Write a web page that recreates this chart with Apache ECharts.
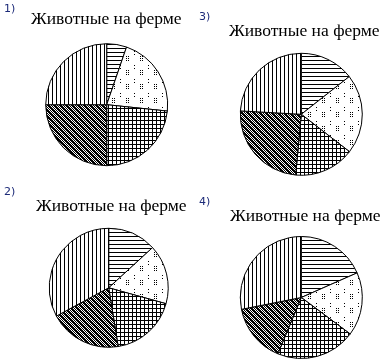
<!DOCTYPE html>
<html>
<head>
<meta charset="utf-8">
<script src="https://cdn.jsdelivr.net/npm/echarts@6/dist/echarts.min.js"></script>
<style>
html,body{margin:0;padding:0;background:#fff;}
#c{width:381px;height:362px;}
</style>
</head>
<body>
<div id="c"></div>
<script>
// Data (slice sizes in degrees), clockwise from 12 o'clock
const categories = ['A', 'B', 'C', 'D', 'E'];
const chart1 = [19, 77, 84, 90, 90];
const chart2 = [47.5, 58, 65.3, 70.8, 118.4];
const chart3 = [51.8, 76, 57.5, 87.9, 86.8];
const chart4 = [66.2, 60.5, 75.9, 56.2, 101.2];
const chartLabels = ['1)', '2)', '3)', '4)'];
const chartTitle = 'Животные на ферме';

function makeTile(w, h, fn) {
  const c = document.createElement('canvas');
  c.width = w; c.height = h;
  const ctx = c.getContext('2d');
  ctx.fillStyle = '#fff';
  ctx.fillRect(0, 0, w, h);
  ctx.fillStyle = '#000';
  for (let y = 0; y < h; y++) for (let x = 0; x < w; x++) if (fn(x, y)) ctx.fillRect(x, y, 1, 1);
  return { image: c, repeat: 'repeat' };
}
const pHoriz = () => makeTile(4, 4, (x, y) => y === 0);
const pVert = () => makeTile(4, 4, (x, y) => x === 0);
const pGrid = () => makeTile(4, 4, (x, y) => x === 0 || y === 0);
const pDots = () => makeTile(14, 14, (x, y) => (x <= 2 && y <= 4 && x % 2 === 0 && y % 2 === 0) || (x === 8 && y % 3 === 0 && y >= 7 && y <= 12));
const pDiag = () => makeTile(6, 6, (x, y) => ((x + y) % 2 === 0) || (((x - y) % 3 + 3) % 3 === 0));

function pieSeries(values, center, radius) {
  const pats = [pHoriz(), pDots(), pGrid(), pDiag(), pVert()];
  return {
    type: 'pie',
    center: center,
    radius: radius,
    startAngle: 90,
    clockwise: true,
    animation: false,
    silent: true,
    label: { show: false },
    labelLine: { show: false },
    itemStyle: { borderColor: '#000', borderWidth: 1 },
    data: values.map((v, i) => ({ name: categories[i], value: v, itemStyle: { color: pats[i] } }))
  };
}

const titleStyle = { fontFamily: 'Liberation Serif', fontSize: 17.5, fontWeight: 'normal', color: '#000' };
const numStyle = { fontFamily: 'DejaVu Sans', fontSize: 11, fontWeight: 'normal', color: '#1c2a78' };

const option = {
  backgroundColor: '#fff',
  animation: false,
  title: [
    { text: chartTitle, left: 31, top: 10, textStyle: titleStyle, padding: 0 },
    { text: chartTitle, left: 36, top: 197, textStyle: titleStyle, padding: 0 },
    { text: chartTitle, left: 229, top: 22, textStyle: titleStyle, padding: 0 },
    { text: chartTitle, left: 230, top: 207, textStyle: titleStyle, padding: 0 },
    { text: chartLabels[0], left: 4, top: 4, textStyle: numStyle, padding: 0 },
    { text: chartLabels[1], left: 4, top: 187, textStyle: numStyle, padding: 0 },
    { text: chartLabels[2], left: 199, top: 12, textStyle: numStyle, padding: 0 },
    { text: chartLabels[3], left: 199, top: 197, textStyle: numStyle, padding: 0 }
  ],
  series: [
    pieSeries(chart1, [106.7, 104.7], 61),
    pieSeries(chart2, [108.7, 287.8], 59.5),
    pieSeries(chart3, [301.3, 114.3], 61),
    pieSeries(chart4, [301.3, 297.5], 61)
  ]
};
const chart = echarts.init(document.getElementById('c'), null, { renderer: 'canvas' });
chart.setOption(option);
</script>
</body>
</html>
